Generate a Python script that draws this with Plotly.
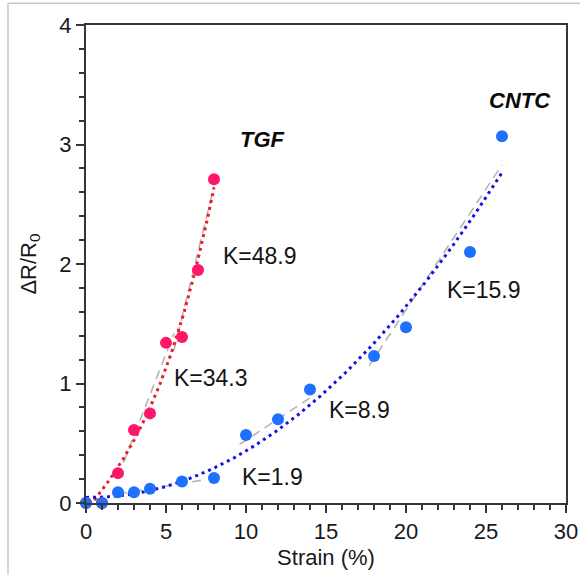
import numpy as np
import plotly.graph_objects as go

# Measured resistance change vs. strain
tgf_strain = [0, 1, 2, 3, 4, 5, 6, 7, 8]
tgf_dr = [0.0, 0.0, 0.25, 0.61, 0.75, 1.34, 1.39, 1.95, 2.71]

cntc_strain = [0, 1, 2, 3, 4, 6, 8, 10, 12, 14, 18, 20, 24, 26]
cntc_dr = [0.0, 0.0, 0.09, 0.09, 0.12, 0.18, 0.21, 0.57, 0.70, 0.95, 1.23, 1.47, 2.10, 3.07]

# Piecewise linear regions (gauge factor K) : x0, x1, y0, y1
seg_labels = ["K=34.3", "K=48.9", "K=1.9", "K=8.9", "K=15.9"]
seg_x0 = [2.0, 5.5, 2.0, 9.6, 17.7]
seg_x1 = [5.5, 8.0, 7.2, 14.0, 26.0]
seg_y0 = [0.22, 1.28, 0.075, 0.49, 1.15]
seg_y1 = [1.42, 2.65, 0.19, 0.88, 2.83]

# Label positions (data coordinates)
k_x = [7.84, 10.9, 11.66, 17.1, 24.9]
k_y = [1.05, 2.07, 0.22, 0.78, 1.78]
series_names = ["TGF", "CNTC"]
name_x = [11.0, 27.1]
name_y = [3.04, 3.37]

PINK = "rgb(255,22,104)"
BLUE = "rgb(30,112,255)"
RED_FIT = "rgb(230,30,40)"
BLUE_FIT = "rgb(20,20,225)"
GRAY = "rgb(180,180,180)"
AXIS = "rgb(55,55,55)"
FONT = "Arial, Liberation Sans, sans-serif"
TXT = "rgb(25,25,25)"

fig = go.Figure()

# gray dashed linear segments
for x0, x1, y0, y1 in zip(seg_x0, seg_x1, seg_y0, seg_y1):
    fig.add_trace(go.Scatter(x=[x0, x1], y=[y0, y1], mode="lines",
                             line=dict(color=GRAY, width=1.6, dash="9px,6px"),
                             hoverinfo="skip", showlegend=False))

# polynomial trend lines
tgf_coef = np.polyfit(tgf_strain, tgf_dr, 3)
tx = np.linspace(0, tgf_strain[-1], 200)
fig.add_trace(go.Scatter(x=tx, y=np.polyval(tgf_coef, tx), mode="lines",
                         line=dict(color=RED_FIT, width=3, dash="3px,4px"),
                         hoverinfo="skip", showlegend=False))

cntc_coef = np.polyfit(cntc_strain, cntc_dr, 2)
cx = np.linspace(0, cntc_strain[-1], 400)
fig.add_trace(go.Scatter(x=cx, y=np.polyval(cntc_coef, cx), mode="lines",
                         line=dict(color=BLUE_FIT, width=3, dash="3px,4px"),
                         hoverinfo="skip", showlegend=False))

# measured points
fig.add_trace(go.Scatter(x=tgf_strain, y=tgf_dr, mode="markers", cliponaxis=False,
                         marker=dict(color=PINK, size=12), name="TGF", showlegend=False))
fig.add_trace(go.Scatter(x=cntc_strain, y=cntc_dr, mode="markers", cliponaxis=False,
                         marker=dict(color=BLUE, size=12), name="CNTC", showlegend=False))

for t, x, y in zip(seg_labels, k_x, k_y):
    fig.add_annotation(x=x, y=y, text=t, showarrow=False,
                       font=dict(family=FONT, size=23, color="rgb(20,20,20)"))
for t, x, y in zip(series_names, name_x, name_y):
    fig.add_annotation(x=x, y=y, text=f"<b><i>{t}</i></b>", showarrow=False,
                       font=dict(family=FONT, size=22, color="rgb(10,10,10)"))

# outer frame (top and left edges)
fig.add_shape(type="line", xref="paper", yref="paper",
              x0=-0.1625, x1=1.03, y0=1.0455, y1=1.0455,
              line=dict(color="rgb(200,200,200)", width=1.5))
fig.add_shape(type="line", xref="paper", yref="paper",
              x0=-0.1625, x1=-0.1625, y0=1.0455, y1=-0.16,
              line=dict(color="rgb(200,200,200)", width=1.5))

axis_common = dict(showgrid=False, zeroline=False, showline=True, linecolor=AXIS,
                   linewidth=2, mirror=True, ticks="outside", tickcolor=AXIS,
                   tickwidth=2, ticklen=8, automargin=False,
                   tickfont=dict(family=FONT, size=22, color=TXT))

fig.update_xaxes(range=[0, 30], dtick=5, tick0=0,
                 minor=dict(dtick=1, ticks="outside", ticklen=5, tickcolor=AXIS, tickwidth=2),
                 title=dict(text="Strain (%)", standoff=6,
                            font=dict(family=FONT, size=22, color=TXT)),
                 **axis_common)
fig.update_yaxes(range=[0, 4], dtick=1, tick0=0,
                 minor=dict(dtick=0.2, ticks="outside", ticklen=5, tickcolor=AXIS, tickwidth=2),
                 title=dict(text="ΔR/R<sub>0</sub>", standoff=17,
                            font=dict(family=FONT, size=22, color=TXT)),
                 **axis_common)

fig.update_layout(width=580, height=575, plot_bgcolor="white", paper_bgcolor="white",
                  margin=dict(l=86, r=14, t=25, b=72), showlegend=False)

fig.write_html("out.html")
